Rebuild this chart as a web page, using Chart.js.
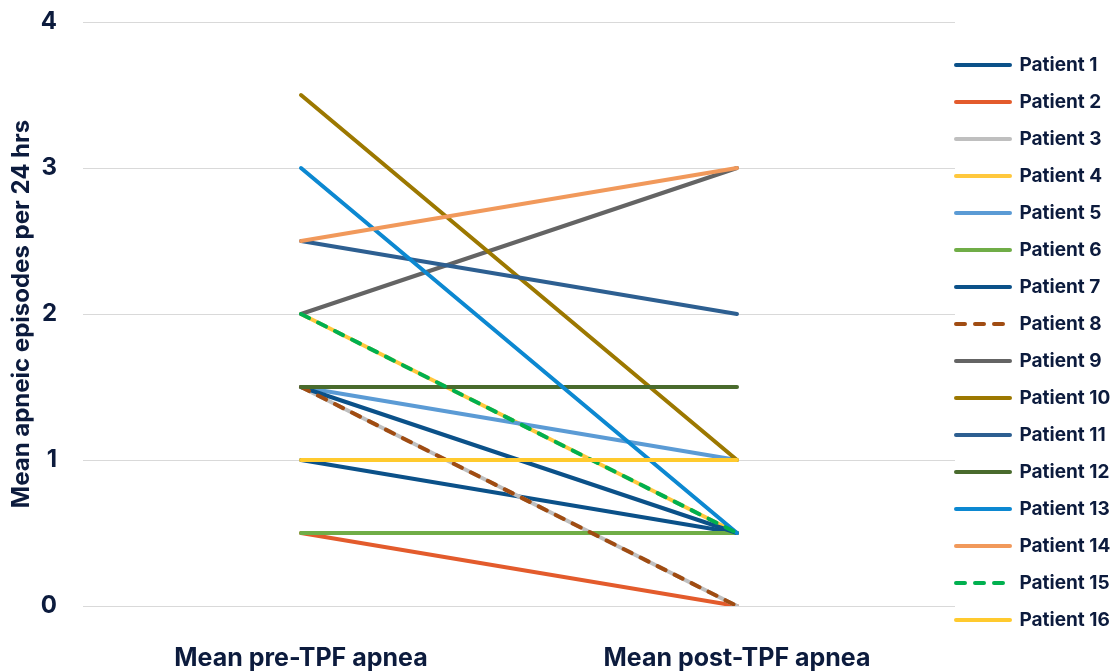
<!DOCTYPE html>
<html><head><meta charset="utf-8">
<script src="https://cdn.jsdelivr.net/npm/chart.js@4"></script>
<style>html,body{margin:0;padding:0;background:#fff}#wrap{width:1115px;height:671px;position:relative}</style>
</head><body><div id="wrap"><canvas id="c" width="1115" height="671"></canvas></div>
<script>
const categories = ['Mean pre-TPF apnea', 'Mean post-TPF apnea'];
const patientNames = ['Patient 1','Patient 2','Patient 3','Patient 4','Patient 5','Patient 6','Patient 7','Patient 8','Patient 9','Patient 10','Patient 11','Patient 12','Patient 13','Patient 14','Patient 15','Patient 16'];
const preValues  = [1, 0.5, 1.5, 2, 1.5, 0.5, 1.5, 1.5, 2, 3.5, 2.5, 1.5, 3, 2.5, 2, 1];
const postValues = [0.5, 0, 0, 0.5, 1, 0.5, 0.5, 0, 3, 1, 2, 1.5, 0.5, 3, 0.5, 1];
const colors = ['#0B5189','#E35B2C','#BFBFBF','#FFC83D','#5B9BD5','#70AD47','#0B5189','#A04C12','#646464','#9C7800','#2D5F91','#496B2D','#0C88D1','#F1995B','#00B04F','#FFCA2E'];
const dashed = [false,false,false,false,false,false,false,true,false,false,false,false,false,false,true,false];
const yTicks = [0, 1, 2, 3, 4];

const navy = '#0C1B3D';
const FONT = 'Inter';
const DASH = [9, 10];

const datasets = patientNames.map((name, i) => ({
  label: name,
  data: [preValues[i], postValues[i]],
  borderColor: colors[i],
  backgroundColor: colors[i],
  borderWidth: 4,
  borderCapStyle: 'round',
  borderJoinStyle: 'round',
  borderDash: dashed[i] ? DASH : [],
  pointRadius: 0,
  pointHoverRadius: 0,
  tension: 0,
  order: patientNames.length - i
}));

const legendPlace = {
  id: 'legendPlace',
  beforeLayout(chart) {
    const lg = chart.legend;
    if (lg && !lg._wrappedFit) {
      const orig = lg.fit;
      lg.fit = function () { orig.call(this); this.width = 160; };
      lg._wrappedFit = true;
    }
  },
  afterLayout(chart) {
    const lg = chart.legend;
    if (!lg) return;
    lg.left -= 17;
    lg.top -= 4; lg.bottom -= 4;
  }
};

new Chart(document.getElementById('c'), {
  type: 'line',
  data: { labels: categories, datasets },
  plugins: [legendPlace],
  options: {
    responsive: false,
    devicePixelRatio: 1,
    animation: false,
    layout: { padding: { top: 22, left: 0, right: 0, bottom: 0 } },
    plugins: {
      tooltip: { enabled: false },
      legend: {
        position: 'right',
        labels: {
          usePointStyle: true,
          pointStyle: 'line',
          pointStyleWidth: 54,
          padding: 18,
          color: navy,
          font: { family: FONT, size: 19, weight: 'bold' },
          generateLabels: (chart) => {
            const items = Chart.defaults.plugins.legend.labels.generateLabels(chart);
            items.forEach((it) => {
              const i = it.datasetIndex;
              it.strokeStyle = colors[i];
              it.fillStyle = colors[i];
              it.lineWidth = 4;
              it.lineCap = 'round';
              it.lineDash = dashed[i] ? DASH : [];
              it.pointStyle = 'line';
            });
            return items;
          },
          sort: (a, b) => a.datasetIndex - b.datasetIndex
        }
      }
    },
    scales: {
      x: {
        offset: true,
        grid: { display: false, drawTicks: false },
        border: { display: false },
        ticks: { color: navy, padding: 37, font: { family: FONT, size: 25, weight: 'bold' } },
        afterFit: (s) => { s.height = 65; s.paddingLeft = 0; s.paddingRight = 0; }
      },
      y: {
        min: 0, max: 4,
        afterBuildTicks: (s) => { s.ticks = yTicks.map(v => ({ value: v })); },
        grid: { color: '#D9D9D9', lineWidth: 1, drawTicks: false },
        border: { display: false },
        ticks: { color: navy, padding: 26, font: { family: FONT, size: 24, weight: 'bold' } },
        title: {
          display: true,
          text: 'Mean apneic episodes per 24 hrs',
          color: navy,
          padding: { top: 7, bottom: 0 },
          font: { family: FONT, size: 24, weight: 'bold' }
        },
        afterFit: (s) => { s.width = 83; s.paddingTop = 10; s.paddingBottom = 10; }
      }
    }
  }
});
</script>
</body></html>
